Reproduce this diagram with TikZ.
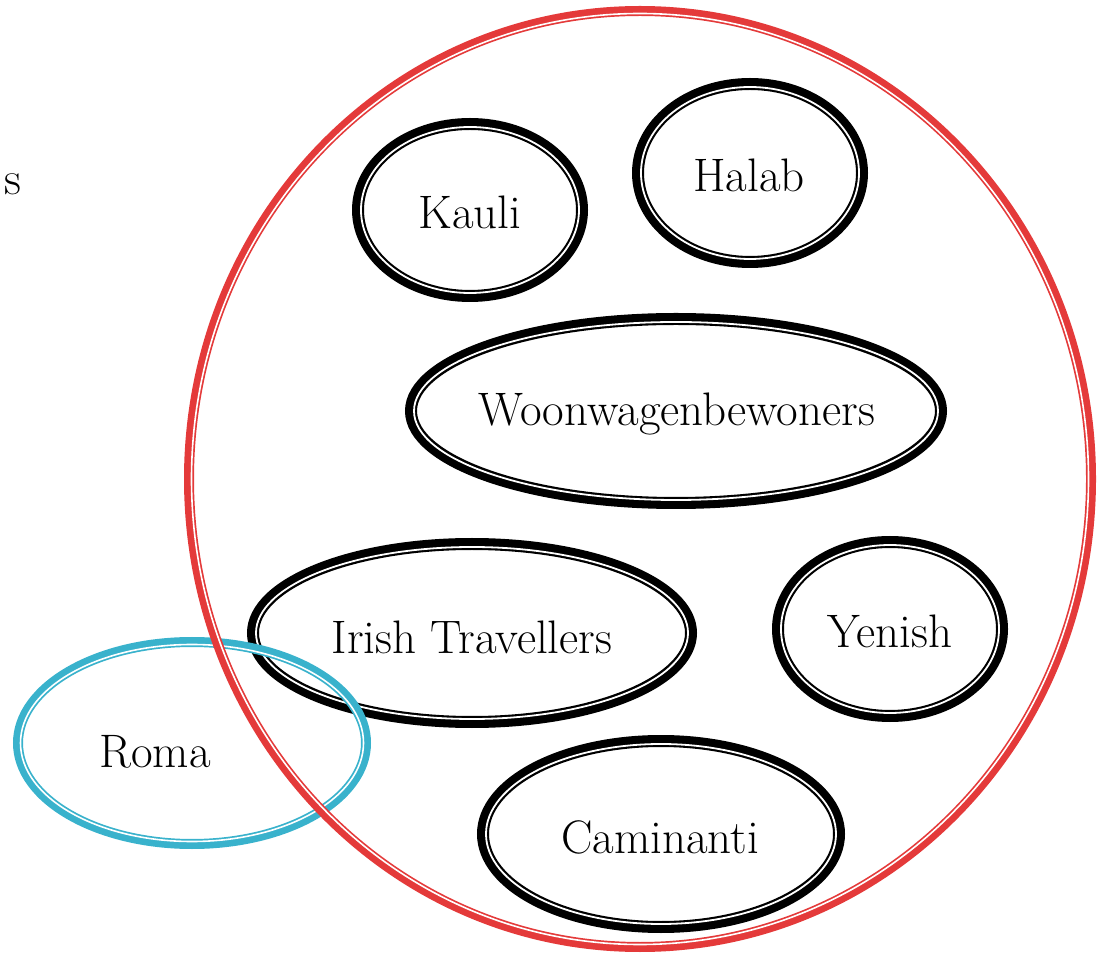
\documentclass[tikz,border=0pt]{standalone}
\usepackage{tikz}
\usetikzlibrary{positioning}
\definecolor{ringred}{RGB}{228,58,58}
\definecolor{ringblue}{RGB}{57,178,204}

\begin{document}
\begin{tikzpicture}
[x=1pt,y=1pt,
group/.style = {font=\fontsize{47}{56}\selectfont, inner sep=0pt},
blackring/.style = {draw=black, line width=12pt},
bluering/.style = {draw=ringblue, line width=10pt},
redring/.style = {draw=ringred, line width=10pt},
gapline/.style = {draw=white, line width=1.8pt},]
\useasboundingbox (0,0) rectangle (1100,959);
% groups inside the big circle
\node (kauli) at (470,747)[group] {Kauli};
\node (halab) at (749,784)[group] {Halab};
\node (woon) at (677,545)[group] {Woonwagenbewoners};
\node (irish) at (472,322)[group] {Irish Travellers};
\node (yenish) at (890,328)[group] {Yenish};
\node (caminanti) at (660,122)[group] {Caminanti};
\node (roma) at (155,207)[group] {Roma};
\node (s) at (22,775)[group,anchor=east] {s};
\coordinate (kauliC) at (470,749);
\coordinate (halabC) at (750,786);
\coordinate (woonC) at (676,548);
\coordinate (irishC) at (472,326);
\coordinate (yenishC) at (890,330);
\coordinate (caminantiC) at (661,125);
\coordinate (romaC) at (192,216);
\coordinate (allC) at (640,480);
\foreach \c/\rx/\ry in {kauliC/112/86, halabC/112/89, woonC/265/92, irishC/219/89, yenishC/112/87, caminantiC/178/93}
{
\draw[blackring] (\c) ellipse [x radius=\rx, y radius=\ry];
\draw[gapline] (\c) ellipse [x radius=\rx-3, y radius=\ry-3];
}
\draw[bluering] (romaC) ellipse [x radius=174, y radius=101];
\draw[gapline,line width=1.6pt] (romaC) ellipse [x radius=171.5, y radius=98.5];
\draw[redring] (allC) ellipse [x radius=451, y radius=468];
\draw[gapline,line width=1.6pt] (allC) ellipse [x radius=448.5, y radius=465.5];
\end{tikzpicture}
\end{document}
